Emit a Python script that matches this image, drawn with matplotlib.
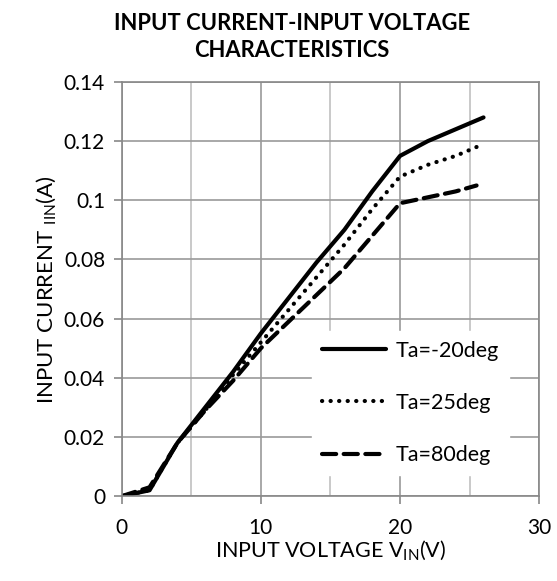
import matplotlib
matplotlib.use("Agg")
import matplotlib.pyplot as plt
from matplotlib.ticker import MultipleLocator

plt.rcParams['font.family'] = ['Lato', 'DejaVu Sans']
plt.rcParams['mathtext.default'] = 'regular'

v_m20 = [0, 2, 4, 6, 8, 10, 12, 14, 16, 18, 20, 22, 24, 26]
i_m20 = [0, 0.002, 0.018, 0.030, 0.042, 0.055, 0.067, 0.079, 0.090, 0.103, 0.115, 0.120, 0.124, 0.128]
v_25 = [0, 2, 4, 6, 8, 10, 12, 14, 16, 18, 20, 22, 24, 25.5]
i_25 = [0, 0.002, 0.018, 0.029, 0.041, 0.052, 0.063, 0.074, 0.085, 0.097, 0.108, 0.112, 0.115, 0.118]
v_80 = [0, 2, 4, 6, 8, 10, 12, 14, 16, 18, 20, 22, 24, 25.5]
i_80 = [0, 0.003, 0.018, 0.029, 0.039, 0.050, 0.059, 0.068, 0.077, 0.088, 0.099, 0.101, 0.103, 0.105]
labels = ['Ta=-20deg', 'Ta=25deg', 'Ta=80deg']
xticks = [0, 10, 20, 30]
yticks = [0, 0.02, 0.04, 0.06, 0.08, 0.1, 0.12, 0.14]
yticklabels = ['0', '0.02', '0.04', '0.06', '0.08', '0.1', '0.12', '0.14']

fig = plt.figure(figsize=(5.57, 5.81), dpi=100)
ax = fig.add_axes([0.2185, 0.146, 0.7495, 0.713])

ax.plot(v_m20, i_m20, color='black', lw=3.0, ls='-', label=labels[0], solid_capstyle='round')
ax.plot(v_25, i_25, color='black', lw=3.0, ls=(0, (0.05, 2.0)), dash_capstyle='round', label=labels[1])
ax.plot(v_80, i_80, color='black', lw=3.0, ls=(0, (3.4, 1.8)), dash_capstyle='round', label=labels[2])

ax.set_xlim(0, 30)
ax.set_ylim(0, 0.14)
ax.set_xticks(xticks)
ax.set_xticklabels([str(t) for t in xticks])
ax.set_yticks(yticks)
ax.set_yticklabels(yticklabels)
ax.xaxis.set_minor_locator(MultipleLocator(5))
ax.grid(which='major', color='#9a9a9a', lw=1.2)
ax.grid(which='minor', axis='x', color='#c0c0c0', lw=1.2)
ax.set_axisbelow(True)
for s in ax.spines.values():
    s.set_color('#888888')
    s.set_linewidth(1.2)
ax.tick_params(axis='both', which='major', labelsize=15, color='#888888', length=6, width=1.2, direction='out')
ax.tick_params(axis='x', which='minor', length=0)
ax.tick_params(axis='x', pad=10)
ax.tick_params(axis='y', pad=6)

ax.set_xlabel('INPUT VOLTAGE V$_{IN}$(V)', fontsize=15.5, labelpad=0)
ax.set_ylabel('INPUT CURRENT $_{IIN}$(A)', fontsize=16, labelpad=4)

leg = ax.legend(loc='upper left', bbox_to_anchor=(0.43, 0.425), frameon=True, fontsize=15.5,
                handlelength=3.0, handletextpad=0.45, labelspacing=1.5, borderpad=0.45)
leg.get_frame().set_facecolor('white')
leg.get_frame().set_edgecolor('white')
leg.get_frame().set_alpha(1)
leg.get_frame().set_boxstyle('square', pad=0)

fig.text(0.524, 0.978, 'INPUT CURRENT-INPUT VOLTAGE\nCHARACTERISTICS', ha='center', va='top',
         fontsize=15.8, fontweight='bold', linespacing=1.35)

fig.savefig('out.png', dpi=100)
